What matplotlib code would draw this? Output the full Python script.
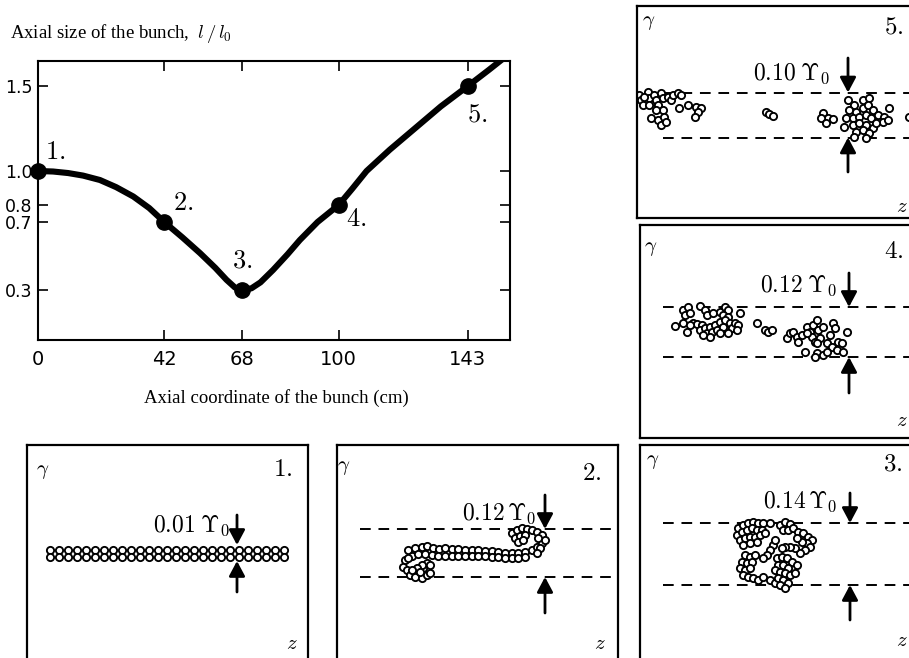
import matplotlib
matplotlib.use("Agg")
import matplotlib.pyplot as plt

plt.rcParams['mathtext.fontset'] = 'cm'

# ---------------- data: main curve ----------------
curve_x = [0, 5, 10, 15, 20.6, 26, 31.7, 37, 42, 48, 53.9, 59, 62.7, 65.5, 68,
           71, 74, 78.2, 83, 87.1, 93, 100, 104.5, 109.3, 117, 126, 134, 143, 150, 155]
curve_y = [1.0, 0.997, 0.988, 0.973, 0.947, 0.905, 0.85, 0.782, 0.70, 0.61, 0.517,
           0.43, 0.36, 0.315, 0.30, 0.31, 0.345, 0.418, 0.51, 0.594, 0.70, 0.80,
           0.895, 1.0, 1.125, 1.26, 1.38, 1.5, 1.595, 1.665]
stage_x = [0, 42, 68, 100, 143]
stage_y = [1.0, 0.7, 0.3, 0.8, 1.5]
stage_labels = ['1.', '2.', '3.', '4.', '5.']
x_ticks = [0, 42, 68, 100, 143]
x_ticklabels = ['0', '42', '68', '100', '143']
y_ticks = [0.3, 0.7, 0.8, 1.0, 1.5]
y_ticklabels = ['0.3', '0.7', '0.8', '1.0', '1.5']

# ---------------- data: phase-space panels (z, gamma in arbitrary panel units) ----------------
p1_row = [23, 32, 41, 50, 59, 68, 77, 86, 95, 104, 113, 122, 131, 140, 149, 158,
          167, 176, 185, 194, 203, 212, 221, 230, 239, 248, 257]
p1_z = p1_row + p1_row
p1_g = [105] * len(p1_row) + [112] * len(p1_row)

p2_z = [71, 78, 85, 90, 96, 102, 108, 115, 121, 128, 135, 141, 148, 155, 161, 168, 175, 181, 188, 195, 200, 205,
        75, 81, 88, 95, 101, 108, 115, 121, 128, 135, 141, 148, 155, 161, 168, 175, 181, 188,
        175, 180, 185, 190, 195, 200, 205, 208, 178, 183, 188, 181, 186, 201, 203, 200,
        68, 66, 70, 73, 78, 85, 90, 93, 86, 90, 85, 80, 93, 83, 75, 71]
p2_g = [105, 103, 102, 101, 103, 104, 103, 104, 104, 105, 105, 105, 106, 106, 107, 108, 108, 108, 107, 105, 102, 98,
        111, 109, 109, 110, 111, 111, 111, 111, 111, 111, 111, 111, 112, 112, 113, 113, 113, 112,
        88, 85, 83, 84, 85, 87, 90, 95, 93, 91, 90, 97, 95, 93, 103, 108,
        115, 122, 125, 130, 132, 133, 130, 128, 123, 118, 120, 123, 120, 127, 125, 113]

p3_z = [98, 103, 108, 113, 118, 123, 130, 97, 102, 107, 112, 117, 122, 100, 105, 110, 115, 120, 125, 103, 110, 117,
        140, 145, 150, 143, 148, 153, 158, 163, 168, 172, 167, 162, 157, 170, 165, 160, 155, 150, 145,
        133, 130, 127, 123, 135, 142,
        105, 110, 115, 102, 107, 112, 100, 105, 110, 103, 108, 113, 118, 123, 130, 135,
        137, 142, 147, 152, 157, 138, 143, 148, 135, 140, 145, 150, 155, 138, 143, 148, 140, 145]
p3_g = [83, 80, 78, 77, 78, 78, 78, 90, 87, 85, 83, 85, 85, 95, 93, 92, 92, 90, 88, 100, 98, 97,
        80, 77, 79, 85, 85, 83, 87, 88, 92, 95, 98, 97, 93, 102, 105, 108, 103, 102, 102,
        100, 105, 110, 113, 95, 103,
        110, 112, 110, 117, 118, 117, 123, 125, 123, 130, 132, 133, 135, 132, 135, 138,
        113, 112, 113, 117, 120, 120, 120, 123, 125, 127, 128, 130, 128, 133, 135, 138, 140, 143]

p4_z = [35, 43, 45, 48, 50, 60, 65, 67, 73, 80, 85, 88, 83, 88, 100, 43, 47, 53, 57, 62, 60, 65, 67, 70, 72,
        75, 77, 80, 83, 85, 90, 92, 95, 98, 97, 70, 63, 80, 88, 50,
        117, 125, 128, 132,
        147, 150, 153, 157, 158, 162, 167, 170, 173, 177, 178, 183, 172, 175, 180, 190, 193, 195, 198, 202,
        207, 187, 192, 197, 203, 177, 177, 183, 165, 175, 187, 167]
p4_g = [101, 85, 90, 82, 88, 81, 85, 90, 88, 87, 82, 85, 90, 92, 88, 98, 107, 98, 99, 100, 105, 103, 108, 102, 107,
        100, 105, 97, 102, 95, 98, 103, 98, 100, 105, 112, 110, 108, 108, 100,
        98, 105, 107, 105,
        113, 108, 107, 112, 117, 110, 102, 107, 100, 95, 105, 102, 112, 117, 113, 110, 98, 103, 117, 118,
        107, 118, 122, 125, 127, 118, 128, 130, 127, 132, 127, 108]

p5_z = [2, 4, 6, 11, 12, 17, 19, 24, 26, 31, 34, 36, 41, 44, 42, 51, 21, 26, 19, 14, 21, 24, 27, 29, 12, 7,
        59, 64, 61, 58,
        129, 132, 136,
        186, 191, 196, 184, 189,
        211, 217, 226, 232, 212, 219, 226, 231, 236, 209, 216, 222, 229, 234, 241, 247, 252, 246, 251,
        207, 216, 222, 229, 236, 219, 226, 232, 229, 217, 239,
        272]
p5_g = [89, 94, 99, 86, 92, 89, 94, 87, 92, 91, 94, 89, 87, 89, 102, 99, 99, 104, 104, 112, 114, 119, 111, 116, 99, 91,
        101, 102, 106, 111,
        106, 108, 110,
        107, 112, 113, 112, 117,
        94, 99, 94, 92, 104, 106, 102, 99, 104, 112, 112, 111, 109, 112, 109, 111, 102, 116, 114,
        121, 119, 117, 119, 122, 126, 124, 127, 132, 131, 117,
        111]

spreads = [r'$0.01\;\Upsilon_0$', r'$0.12\,\Upsilon_0$', r'$0.14\,\Upsilon_0$',
           r'$0.12\;\Upsilon_0$', r'$0.10\;\Upsilon_0$']

# ---------------- figure ----------------
FW, FH = 909, 658
fig = plt.figure(figsize=(FW / 100, FH / 100), dpi=100)


def px_rect(left, top, w, h):
    return [left / FW, 1 - (top + h) / FH, w / FW, h / FH]


# main chart
ax = fig.add_axes(px_rect(38, 61, 472, 279))
ax.plot(curve_x, curve_y, '-', color='black', lw=4.4, solid_capstyle='round', solid_joinstyle='round')
ax.plot(stage_x, stage_y, 'o', color='black', ms=11, clip_on=False, zorder=3)
ax.set_xlim(0, 157)
ax.set_ylim(0.006, 1.647)
ax.set_xticks(x_ticks)
ax.set_xticklabels(x_ticklabels)
ax.set_yticks(y_ticks)
ax.set_yticklabels(y_ticklabels)
ax.tick_params(direction='in', length=7, width=1.2, top=True, right=True)
ax.tick_params(axis='x', pad=7, labelsize=14)
ax.tick_params(axis='y', pad=4, labelsize=12.5)
for s in ax.spines.values():
    s.set_linewidth(1.5)

label_offsets = [(17, 19), (19, 19), (0, 30), (18, -14), (9, -29)]
for (sx, sy, sl, off) in zip(stage_x, stage_y, stage_labels, label_offsets):
    ax.annotate('$' + sl + '$', xy=(sx, sy), xytext=off, textcoords='offset pixels',
                ha='center', va='center', fontsize=19)

fig.text(10 / FW, 1 - 38 / FH, r'Axial size of the bunch,  $l\,/\,l_0$', family='Liberation Serif',
         fontsize=13.5, ha='left', va='baseline')
fig.text(276 / FW, 1 - 403 / FH, 'Axial coordinate of the bunch (cm)', family='Liberation Serif',
         fontsize=13.5, ha='center', va='baseline')


def arrow(a, x, tail, tip):
    a.annotate('', xy=(x, tip), xytext=(x, tail),
               arrowprops=dict(arrowstyle='-|>,head_length=0.75,head_width=0.4', mutation_scale=12,
                               lw=2.0, color='black', shrinkA=0, shrinkB=0))


def panel(rect, z, g, num, spread, text_r, text_base, dash_y, dash_x0, ax_x, down, up,
          g_xy, num_xy, z_xy):
    left, top, w, h = rect
    a = fig.add_axes(px_rect(left, top, w, h))
    a.set_xlim(0, w)
    a.set_ylim(h, 0)
    a.set_xticks([])
    a.set_yticks([])
    for s in a.spines.values():
        s.set_linewidth(1.6)
    for y in dash_y:
        a.plot([dash_x0, w], [y, y], color='black', lw=1.4, dashes=(5.5, 4.0))
    a.plot(z, g, 'o', mfc='white', mec='black', ms=5.2, mew=1.35, ls='none')
    arrow(a, ax_x, down[0], down[1])
    arrow(a, ax_x, up[0], up[1])
    a.text(text_r, text_base, spread, ha='right', va='baseline', fontsize=17)
    a.text(g_xy[0], g_xy[1], r'$\gamma$', ha='center', va='center', fontsize=15)
    a.text(num_xy[0], num_xy[1], '$' + num + '$', ha='center', va='center', fontsize=18)
    a.text(z_xy[0], z_xy[1], r'$z$', ha='center', va='center', fontsize=15)
    return a


panel((27, 445, 281, 225), p1_z, p1_g, '1.', spreads[0], 203, 87, [], 23, 210,
      (70, 100), (147, 116), (16, 26), (256, 24), (265, 198))
panel((337, 445, 281, 225), p2_z, p2_g, '2.', spreads[1], 199, 75, [84, 132], 23, 208,
      (50, 84), (168, 132), (7, 22), (255, 28), (263, 198))
panel((640, 445, 280, 225), p3_z, p3_g, '3.', spreads[2], 197, 63, [78, 140], 23, 210,
      (48, 78), (175, 140), (13, 16), (253, 18), (262, 195))
panel((640, 225, 280, 213), p4_z, p4_g, '4.', spreads[3], 197, 67, [82, 132], 23, 209,
      (48, 82), (168, 132), (11, 23), (254, 26), (262, 195))
panel((637, 6, 280, 212), p5_z, p5_g, '5.', spreads[4], 193, 74, [86.5, 131.5], 26, 211,
      (52, 86.5), (166, 131.5), (12, 16), (257, 20), (265, 200))

fig.savefig('out.png', dpi=100)
